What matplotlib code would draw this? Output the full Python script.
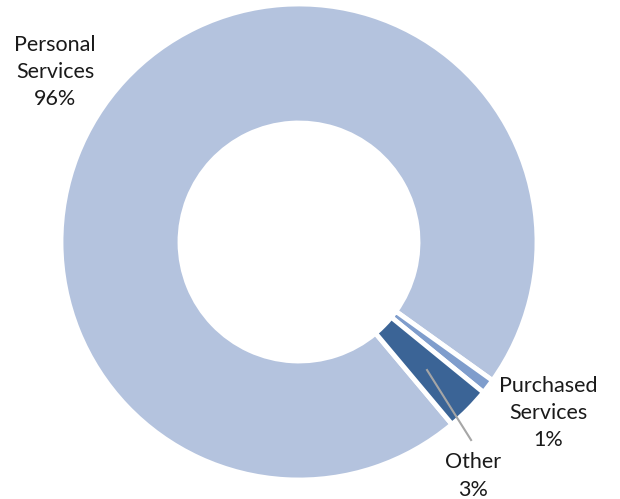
import matplotlib
matplotlib.use("Agg")
from matplotlib import pyplot as plt

categories = ["Personal\nServices", "Purchased\nServices", "Other"]
shares = [96, 1, 3]
colors = ["#b4c3de", "#7f9dcc", "#3b6496"]

plt.rcParams['font.family'] = ['Lato', 'DejaVu Sans']

fig = plt.figure(figsize=(6.2, 4.99), dpi=100)
ax = fig.add_axes([61/620, 19/499, 476/620, 476/499])

wedges, _ = ax.pie(shares, colors=colors, startangle=-50, counterclock=False,
                   radius=1, wedgeprops=dict(width=0.5, edgecolor='white', linewidth=3.5))
ax.set_xlim(-1, 1)
ax.set_ylim(-1, 1)
ax.set_aspect('equal')
ax.axis('off')

# label spots, in data units around the ring
label_pos = [(-1.025, 0.714), (1.046, -0.718), (0.731, -0.983)]
for name, v, (x, y) in zip(categories, shares, label_pos):
    ax.text(x, y, name + "\n" + str(v) + "%", ha='center', va='center',
            fontsize=15.5, linespacing=1.45, color='#1a1a1a', clip_on=False)

# leader line for the small slice
ax.plot([0.538, 0.723], [-0.538, -0.832], color='#a6a6a6', linewidth=1.5, clip_on=False)

fig.savefig("out.png", dpi=100)
